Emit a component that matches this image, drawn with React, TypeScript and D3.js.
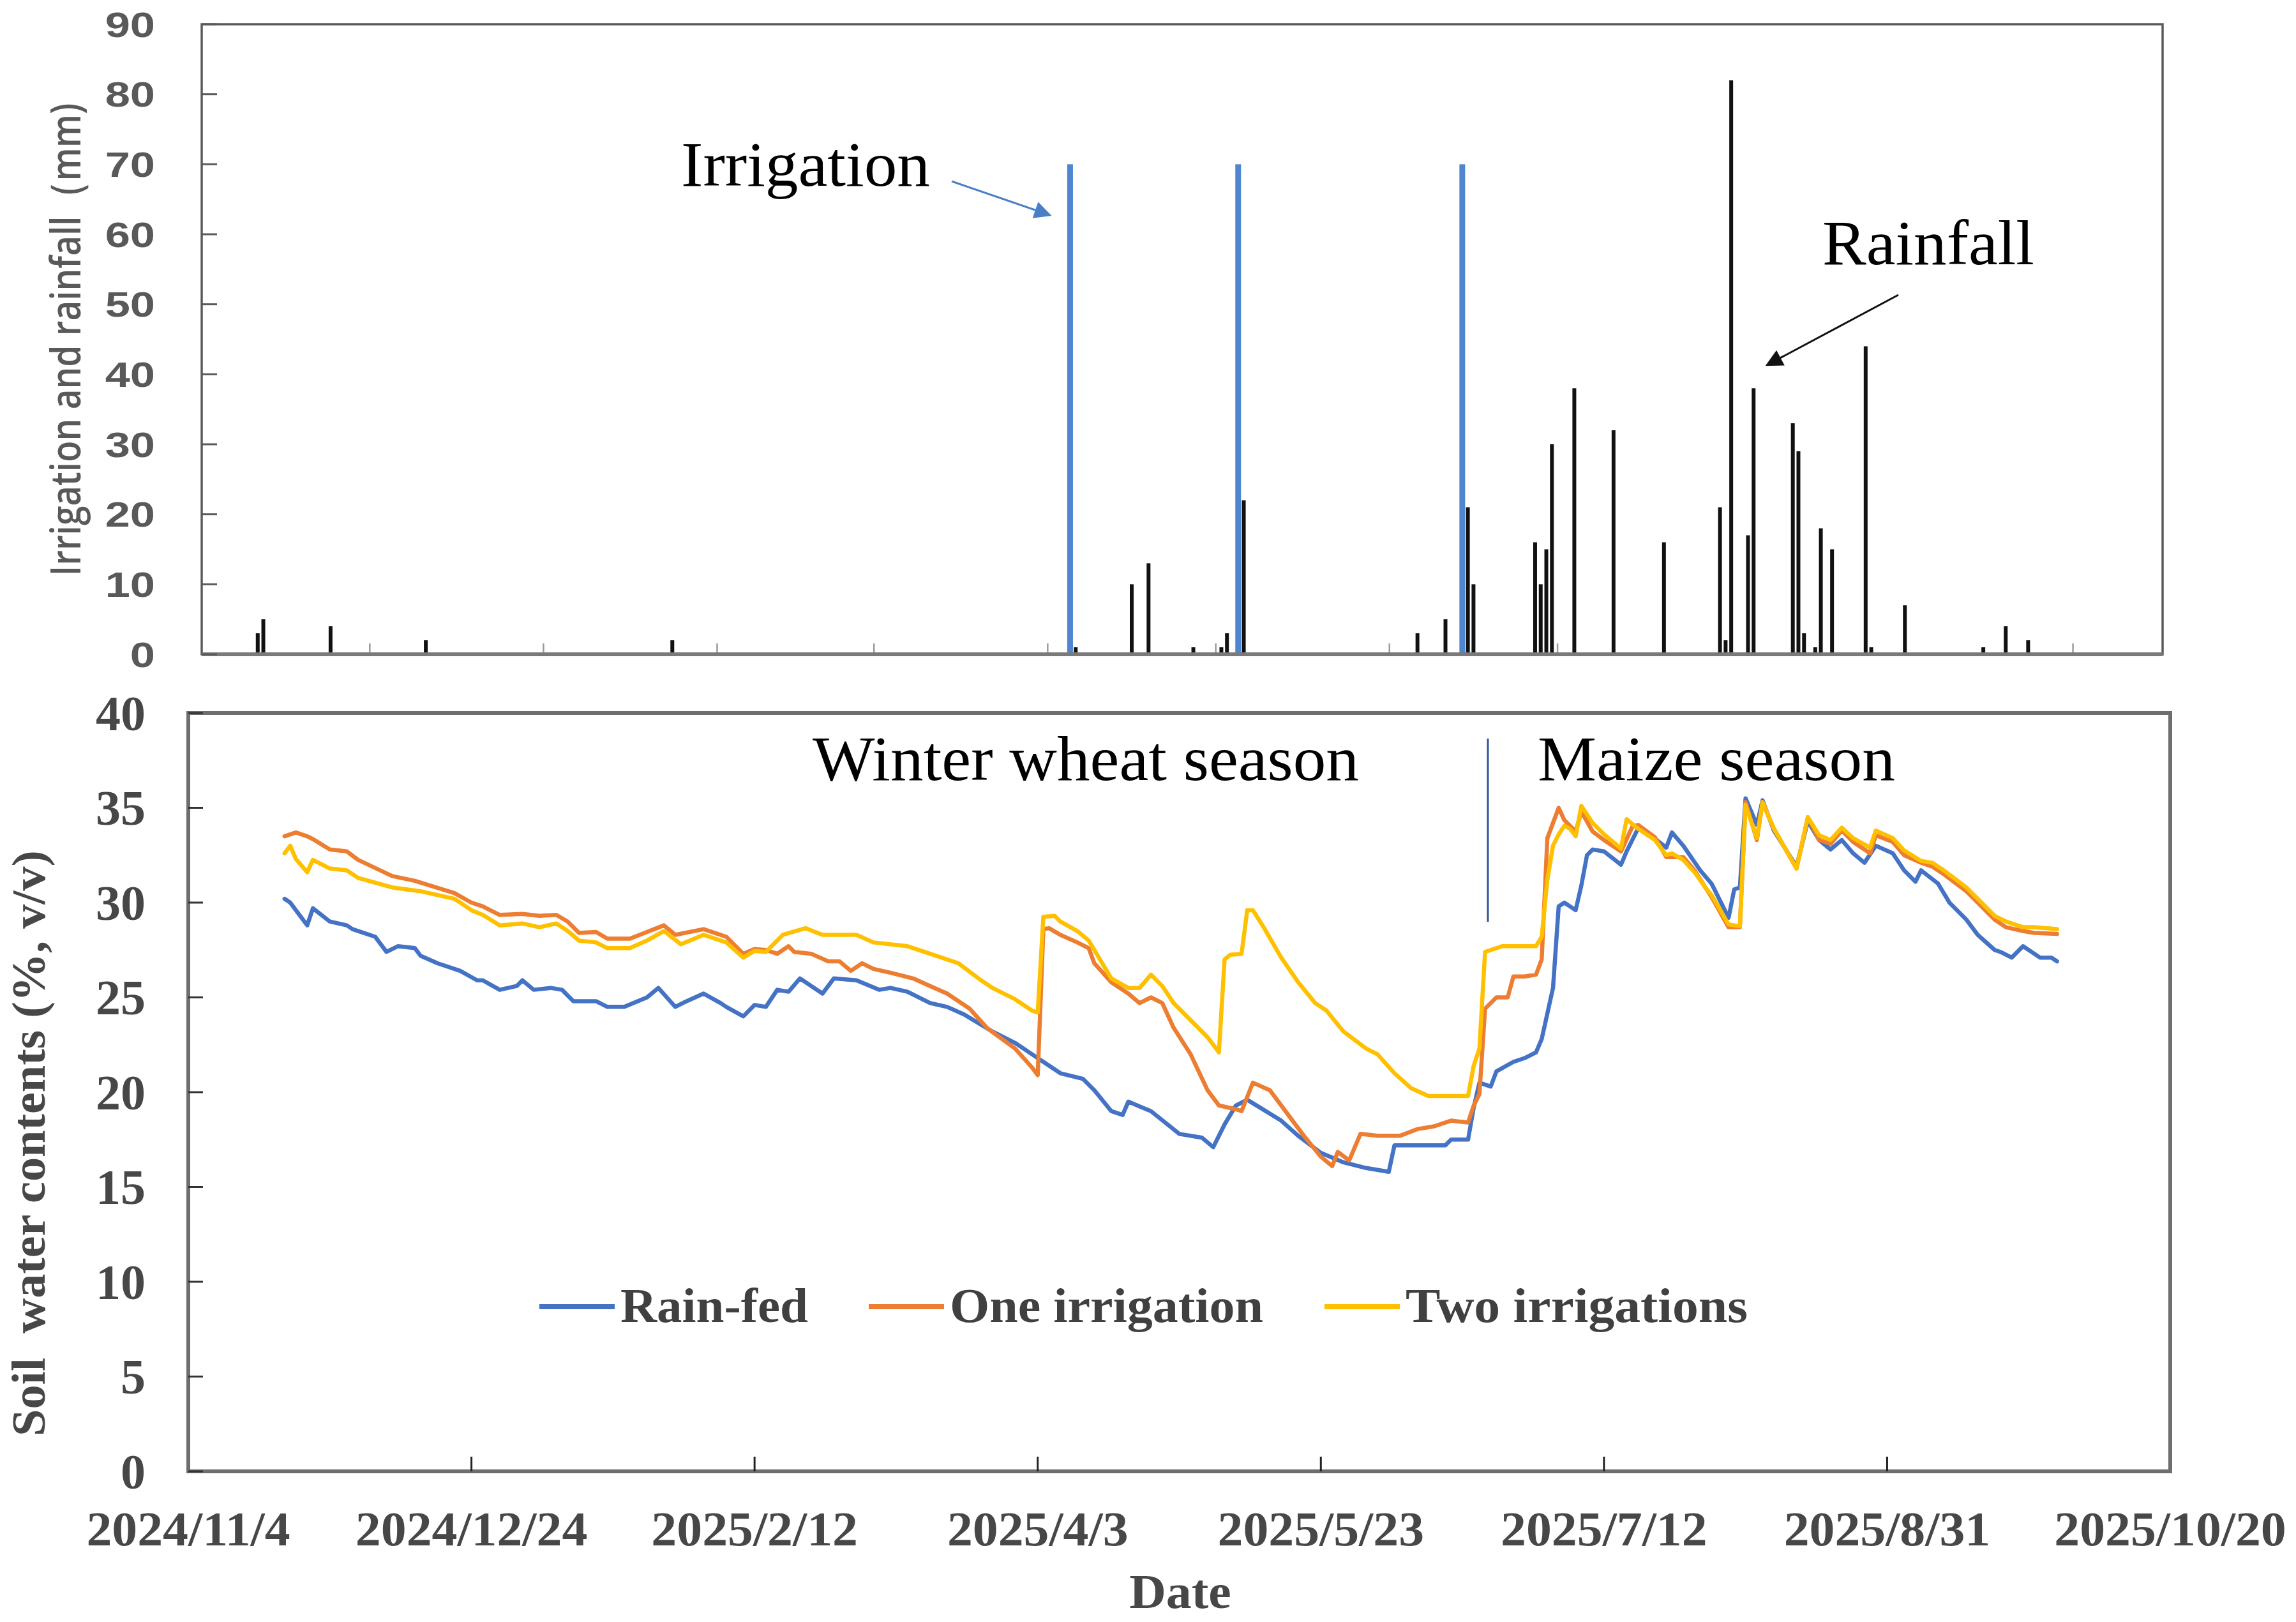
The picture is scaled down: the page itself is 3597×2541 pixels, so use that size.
import React from 'react';
import * as d3 from 'd3';

const W = 3597;
const H = 2541;
const SERIF = '"Liberation Serif", "Times New Roman", serif';
const SANS = '"Open Sans", "Liberation Sans", Arial, sans-serif';
const SANS2 = '"Liberation Sans", Arial, sans-serif';

// ---------------- data ----------------
const startDate = '2024-11-04';
const endDate = '2025-10-20';

// top panel (mm)
const rainDates = [
  '2024-11-14', '2024-11-15', '2024-11-27', '2024-12-14', '2025-01-27', '2025-04-09',
  '2025-04-19', '2025-04-22', '2025-04-30', '2025-05-05', '2025-05-06', '2025-05-09',
  '2025-06-09', '2025-06-14', '2025-06-18', '2025-06-19', '2025-06-30', '2025-07-01',
  '2025-07-02', '2025-07-03', '2025-07-07', '2025-07-14', '2025-07-23', '2025-08-02',
  '2025-08-03', '2025-08-04', '2025-08-07', '2025-08-08', '2025-08-15', '2025-08-16',
  '2025-08-17', '2025-08-19', '2025-08-20', '2025-08-22', '2025-08-28', '2025-08-29',
  '2025-09-04', '2025-09-18', '2025-09-22', '2025-09-26',
];
const rainMm = [
  3, 5, 4, 2, 2, 1,
  10, 13, 1, 1, 3, 22,
  3, 5, 21, 10, 16, 10,
  15, 30, 38, 32, 16, 21,
  2, 82, 17, 38, 33, 29,
  3, 1, 18, 15, 44, 1,
  7, 1, 4, 2,
];
const irrigationDates = ['2025-04-08', '2025-05-08', '2025-06-17'];
const irrigationMm = [70, 70, 70];
const topYTicks = [0, 10, 20, 30, 40, 50, 60, 70, 80, 90];

// bottom panel: soil water content (% v/v), day = days after 2024/11/4
const rainFedDay = [17, 18, 21, 22, 25, 28, 29, 33, 35, 37, 40, 41, 44, 48, 51, 52, 55, 58, 59, 61, 64, 66, 68, 72, 74, 77, 81, 83, 86, 88, 91, 94, 95, 98, 100, 102, 104, 106, 108, 112, 114, 118, 122, 124, 127, 131, 134, 137, 142, 146, 149, 151, 154, 158, 160, 163, 165, 166, 170, 175, 179, 181, 183, 185, 187, 193, 196, 200, 204, 208, 212, 213, 216, 219, 222, 223, 226, 227, 228, 230, 231, 234, 236, 238, 239, 241, 242, 243, 245, 246, 247, 248, 250, 253, 254, 256, 258, 261, 262, 264, 267, 269, 272, 273, 274, 275, 277, 278, 280, 284, 286, 288, 290, 292, 294, 296, 298, 301, 303, 305, 306, 309, 311, 314, 316, 319, 320, 322, 324, 327, 329, 330];
const rainFedSwc = [30.2, 30.0, 28.8, 29.7, 29.0, 28.8, 28.6, 28.2, 27.4, 27.7, 27.6, 27.2, 26.8, 26.4, 25.9, 25.9, 25.4, 25.6, 25.9, 25.4, 25.5, 25.4, 24.8, 24.8, 24.5, 24.5, 25.0, 25.5, 24.5, 24.8, 25.2, 24.7, 24.5, 24.0, 24.6, 24.5, 25.4, 25.3, 26.0, 25.2, 26.0, 25.9, 25.4, 25.5, 25.3, 24.7, 24.5, 24.1, 23.2, 22.6, 22.0, 21.6, 21.0, 20.7, 20.1, 19.0, 18.8, 19.5, 19.0, 17.8, 17.6, 17.1, 18.3, 19.3, 19.6, 18.5, 17.7, 16.8, 16.3, 16.0, 15.8, 17.2, 17.2, 17.2, 17.2, 17.5, 17.5, 19.2, 20.5, 20.3, 21.1, 21.6, 21.8, 22.1, 22.8, 25.5, 29.8, 30.0, 29.6, 30.9, 32.5, 32.8, 32.7, 32.0, 32.7, 33.9, 33.6, 32.9, 33.7, 33.0, 31.7, 31.0, 29.2, 30.7, 30.8, 35.5, 34.1, 35.4, 33.8, 31.9, 34.3, 33.3, 32.8, 33.3, 32.6, 32.1, 33.0, 32.6, 31.7, 31.1, 31.7, 31.0, 30.0, 29.1, 28.3, 27.5, 27.4, 27.1, 27.7, 27.1, 27.1, 26.9];

const oneIrrDay = [17, 19, 21, 22, 25, 28, 30, 36, 40, 47, 50, 52, 55, 59, 62, 65, 67, 69, 72, 74, 78, 81, 84, 86, 91, 95, 98, 100, 102, 104, 106, 107, 110, 113, 115, 117, 119, 121, 124, 128, 131, 134, 138, 141, 146, 149, 150, 151, 152, 154, 157, 159, 160, 163, 166, 168, 170, 172, 174, 177, 180, 182, 185, 186, 188, 191, 193, 197, 200, 202, 203, 205, 207, 210, 214, 217, 220, 223, 226, 227, 228, 229, 231, 233, 234, 236, 238, 239, 240, 241, 242, 243, 245, 246, 248, 250, 253, 255, 256, 259, 261, 264, 266, 268, 269, 272, 274, 275, 277, 278, 280, 284, 286, 288, 290, 292, 294, 297, 298, 301, 303, 306, 308, 310, 314, 316, 319, 321, 324, 326, 330];
const oneIrrSwc = [33.5, 33.7, 33.5, 33.35, 32.8, 32.7, 32.25, 31.4, 31.15, 30.5, 30.0, 29.8, 29.35, 29.4, 29.3, 29.35, 29.0, 28.4, 28.45, 28.1, 28.1, 28.45, 28.8, 28.3, 28.6, 28.2, 27.3, 27.55, 27.5, 27.3, 27.7, 27.4, 27.3, 26.9, 26.9, 26.4, 26.8, 26.5, 26.3, 26.0, 25.6, 25.2, 24.4, 23.4, 22.3, 21.3, 20.9, 28.6, 28.65, 28.3, 27.9, 27.6, 26.8, 25.8, 25.2, 24.7, 25.0, 24.7, 23.4, 22.0, 20.1, 19.3, 19.1, 19.0, 20.5, 20.1, 19.3, 17.7, 16.6, 16.1, 16.85, 16.4, 17.8, 17.7, 17.7, 18.05, 18.2, 18.5, 18.4, 19.3, 19.9, 24.4, 25.0, 25.0, 26.1, 26.1, 26.2, 27.0, 33.4, 34.2, 35.0, 34.35, 33.75, 34.8, 33.75, 33.3, 32.7, 34.0, 34.1, 33.45, 32.4, 32.4, 31.7, 30.75, 30.3, 28.7, 28.7, 35.3, 33.3, 35.3, 33.9, 31.8, 34.5, 33.3, 33.1, 33.8, 33.2, 32.6, 33.55, 33.2, 32.5, 32.1, 31.9, 31.5, 30.6, 30.0, 29.1, 28.7, 28.5, 28.4, 28.35];

const twoIrrDay = [17, 18, 19, 21, 22, 25, 28, 30, 36, 41, 47, 50, 52, 55, 59, 62, 65, 67, 69, 72, 74, 78, 81, 84, 87, 91, 95, 98, 100, 102, 105, 109, 112, 118, 121, 127, 131, 136, 140, 142, 146, 149, 150, 151, 153, 154, 157, 159, 161, 163, 166, 168, 170, 172, 174, 177, 180, 182, 183, 184, 186, 187, 188, 190, 193, 196, 199, 201, 204, 208, 210, 213, 216, 219, 223, 226, 227, 228, 229, 232, 235, 238, 239, 240, 241, 242, 243, 244, 245, 246, 248, 250, 253, 254, 256, 259, 261, 262, 264, 266, 268, 269, 272, 274, 275, 277, 278, 280, 284, 286, 288, 290, 292, 294, 297, 298, 301, 303, 306, 308, 310, 314, 316, 319, 321, 324, 326, 330];
const twoIrrSwc = [32.6, 33.0, 32.3, 31.6, 32.25, 31.8, 31.7, 31.3, 30.8, 30.6, 30.2, 29.6, 29.35, 28.8, 28.9, 28.7, 28.9, 28.5, 28.0, 27.9, 27.6, 27.6, 28.0, 28.5, 27.8, 28.3, 27.9, 27.1, 27.45, 27.4, 28.3, 28.65, 28.3, 28.3, 27.9, 27.7, 27.3, 26.8, 25.9, 25.5, 24.9, 24.3, 24.2, 29.25, 29.3, 29.0, 28.5, 28.0, 27.0, 26.0, 25.5, 25.5, 26.2, 25.6, 24.7, 23.8, 22.9, 22.1, 27.0, 27.25, 27.3, 29.6, 29.6, 28.65, 27.1, 25.8, 24.7, 24.3, 23.2, 22.3, 22.0, 21.0, 20.2, 19.8, 19.8, 19.8, 21.4, 22.3, 27.4, 27.7, 27.7, 27.7, 28.2, 31.2, 33.0, 33.6, 34.05, 33.9, 33.5, 35.1, 34.2, 33.6, 32.85, 34.4, 33.9, 33.3, 32.5, 32.6, 32.25, 31.6, 30.75, 30.4, 28.85, 28.75, 35.15, 33.4, 35.3, 33.9, 31.8, 34.5, 33.55, 33.3, 33.95, 33.4, 32.9, 33.8, 33.4, 32.75, 32.2, 32.1, 31.7, 30.8, 30.2, 29.3, 29.0, 28.7, 28.7, 28.6];

const bottomYTicks = [0, 5, 10, 15, 20, 25, 30, 35, 40];
const xTickDays = [0, 50, 100, 150, 200, 250, 300, 350];
const xTickLabels = ['2024/11/4', '2024/12/24', '2025/2/12', '2025/4/3', '2025/5/23', '2025/7/12', '2025/8/31', '2025/10/20'];

const seriesNames = ['Rain-fed', 'One irrigation', 'Two irrigations'];
const seriesColors = ['#4472C4', '#ED7D31', '#FFC000'];

// ---------------- layout ----------------
const TOP = { left: 316, right: 3388, top: 38, bottom: 1025 };
const BOT = { left: 295, right: 3400, top: 1117, bottom: 2305 };

const parse = d3.timeParse('%Y-%m-%d');
const start = parse(startDate) as Date;
const end = parse(endDate) as Date;
const totalDays = d3.timeDay.count(start, end);
const dayOf = (s: string) => d3.timeDay.count(start, parse(s) as Date);

const xTop = d3.scaleLinear().domain([0, totalDays]).range([TOP.left, TOP.right]);
const yTop = d3.scaleLinear().domain([0, 90]).range([TOP.bottom, TOP.top]);
const xBot = d3.scaleLinear().domain([0, totalDays]).range([BOT.left, BOT.right]);
const yBot = d3.scaleLinear().domain([0, 40]).range([BOT.bottom, BOT.top]);

const topMonthTicks = d3.range(1, 12).map((i) => d3.timeDay.count(start, d3.timeMonth.offset(start, i)));

function T(props: any) {
  const { x, y, size, anchor = 'start', weight = 'normal', family = SERIF, fill = '#474747', sx = 1, rotate = 0, len, dy, children, pre } = props;
  const tr = `translate(${x},${y}) scale(${sx},1)` + (rotate ? ` rotate(${rotate})` : '');
  return (
    <text
      transform={tr}
      fontSize={size}
      fontFamily={family}
      fontWeight={weight}
      textAnchor={anchor}
      fill={fill}
      dy={dy}
      textLength={len}
      lengthAdjust={len ? 'spacingAndGlyphs' : undefined}
      style={pre ? { whiteSpace: 'pre' } : undefined}
    >
      {children}
    </text>
  );
}

export default function App() {
  const line = d3
    .line<[number, number]>()
    .x((d) => xBot(d[0]))
    .y((d) => yBot(d[1]));

  const series = [
    d3.zip(rainFedDay, rainFedSwc) as [number, number][],
    d3.zip(oneIrrDay, oneIrrSwc) as [number, number][],
    d3.zip(twoIrrDay, twoIrrSwc) as [number, number][],
  ];

  const legendX = [845, 1361, 2075];
  const legendLen = [294, 491, 536];

  return (
    <svg
      width={W}
      height={H}
      viewBox={`0 0 ${W} ${H}`}
      style={{ position: 'absolute', left: 0, top: 0, background: '#fff' }}
    >
      <defs>
        <marker id="arrBlue" viewBox="0 0 10 10" refX="9" refY="5" markerWidth="11" markerHeight="9" orient="auto" markerUnits="strokeWidth">
          <path d="M0,0 L10,5 L0,10 z" fill="#4a7fc8" />
        </marker>
        <marker id="arrBlack" viewBox="0 0 10 10" refX="9" refY="5" markerWidth="11" markerHeight="9" orient="auto" markerUnits="strokeWidth">
          <path d="M0,0 L10,5 L0,10 z" fill="#111" />
        </marker>
      </defs>
      <rect x={0} y={0} width={W} height={H} fill="#fff" />

      {/* ===== Top panel ===== */}
      {topMonthTicks.map((d, i) => (
        <line key={'mt' + i} x1={xTop(d)} x2={xTop(d)} y1={TOP.bottom} y2={TOP.bottom - 17} stroke="#9a9a9a" strokeWidth={2.5} />
      ))}
      {irrigationDates.map((s, i) => {
        const x = xTop(dayOf(s));
        return <rect key={'ir' + i} x={x - 4.5} width={9} y={yTop(irrigationMm[i])} height={yTop(0) - yTop(irrigationMm[i])} fill="#4f86cf" />;
      })}
      {rainDates.map((s, i) => {
        const x = xTop(dayOf(s));
        return <rect key={'rn' + i} x={x - 3} width={6} y={yTop(rainMm[i])} height={yTop(0) - yTop(rainMm[i])} fill="#111" />;
      })}
      <rect x={TOP.left} y={TOP.top} width={TOP.right - TOP.left} height={TOP.bottom - TOP.top} fill="none" stroke="#595959" strokeWidth={3.5} />
      <line x1={TOP.left} x2={TOP.right} y1={TOP.bottom} y2={TOP.bottom} stroke="#7a7a7a" strokeWidth={6} />
      {topYTicks.map((v) => (
        <g key={'ty' + v}>
          <line x1={TOP.left} x2={TOP.left + 24} y1={yTop(v)} y2={yTop(v)} stroke="#595959" strokeWidth={3} />
          <T x={243} y={yTop(v)} size={55} anchor="end" family={SANS2} weight="bold" fill="#595959" sx={1.28} dy="0.36em">
            {v}
          </T>
        </g>
      ))}
      <T x={126} y={532} size={66} anchor="middle" family={SANS} weight={600} fill="#595959" rotate={-90} len={741}>
        Irrigation and rainfall（mm)
      </T>
      <T x={1067} y={291} size={100} fill="#000" len={390}>Irrigation</T>
      <line x1={1491} y1={284} x2={1645} y2={337} stroke="#4a7fc8" strokeWidth={3} markerEnd="url(#arrBlue)" />
      <T x={2855} y={414} size={100} fill="#000" len={332}>Rainfall</T>
      <line x1={2974} y1={462} x2={2768} y2={572} stroke="#111" strokeWidth={3} markerEnd="url(#arrBlack)" />

      {/* ===== Bottom panel ===== */}
      {series.map((s, i) => (
        <path key={'ln' + i} d={line(s) as string} fill="none" stroke={seriesColors[i]} strokeWidth={6.5} strokeLinejoin="round" strokeLinecap="round" />
      ))}
      <rect x={BOT.left} y={BOT.top} width={BOT.right - BOT.left} height={BOT.bottom - BOT.top} fill="none" stroke="#6e6e6e" strokeWidth={6} />
      {bottomYTicks.map((v) => (
        <g key={'by' + v}>
          <line x1={BOT.left} x2={BOT.left + 23} y1={yBot(v)} y2={yBot(v)} stroke="#333" strokeWidth={3} />
          <T x={228} y={yBot(v)} size={78} anchor="end" weight="bold" dy="0.34em">
            {v}
          </T>
        </g>
      ))}
      {xTickDays.map((d, i) => (
        <g key={'bx' + d}>
          {i > 0 && i < xTickDays.length - 1 && (
            <line x1={xBot(d)} x2={xBot(d)} y1={BOT.bottom} y2={BOT.bottom - 23} stroke="#222" strokeWidth={3} />
          )}
          <T x={xBot(d)} y={2421} size={76} anchor="middle" weight="bold" sx={1.05}>
            {xTickLabels[i]}
          </T>
        </g>
      ))}
      <T x={1849} y={2519} size={76} anchor="middle" weight="bold" sx={1.05}>Date</T>
      <T x={70} y={1791} size={74} anchor="middle" weight="bold" rotate={-90} len={918} pre>
        {'Soil  water contents (%, v/v)'}
      </T>
      <T x={1273} y={1222} size={100} fill="#000" len={856}>Winter wheat season</T>
      <T x={2409} y={1222} size={100} fill="#000" len={560}>Maize season</T>
      <line x1={xBot(229.5)} x2={xBot(229.5)} y1={1157} y2={1444} stroke="#2f5597" strokeWidth={3} />
      {seriesNames.map((n, i) => (
        <g key={'lg' + i}>
          <line x1={legendX[i]} x2={legendX[i] + 118} y1={2047} y2={2047} stroke={seriesColors[i]} strokeWidth={8} />
          <T x={legendX[i] + 127} y={2071} size={76} weight="bold" fill="#404040" len={legendLen[i]}>
            {n}
          </T>
        </g>
      ))}
    </svg>
  );
}
